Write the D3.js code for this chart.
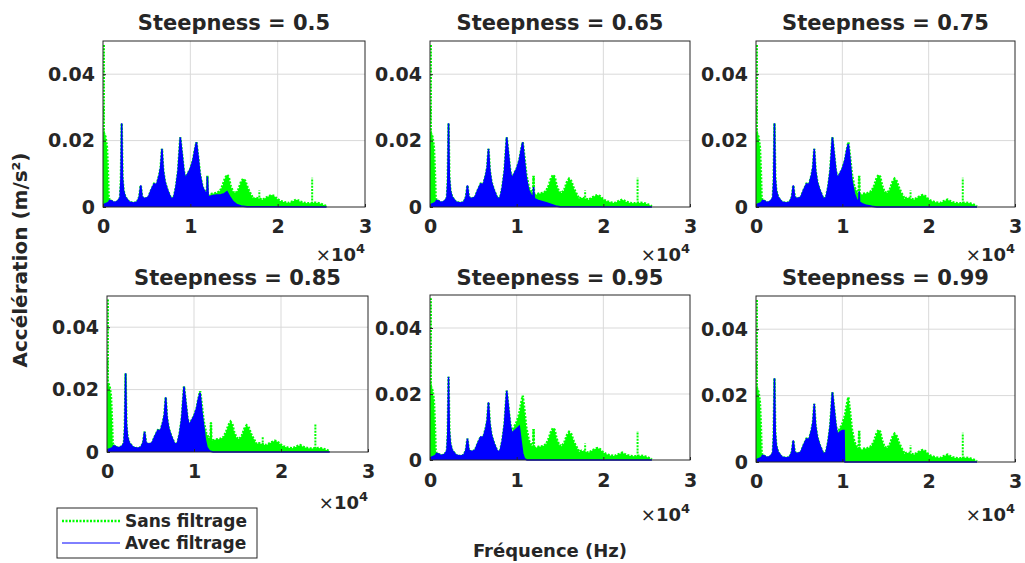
<!DOCTYPE html>
<html><head><meta charset="utf-8">
<script src="https://cdn.jsdelivr.net/npm/d3@7"></script>
<style>
body{margin:0;background:#fff}
svg{display:block}
text{font-family:"DejaVu Sans",sans-serif;font-weight:bold;fill:#262626}
</style>
</head><body><svg id="c" width="1025" height="563"></svg>
<script>
// ---------------- data ----------------
const steepness = [0.5, 0.65, 0.75, 0.85, 0.95, 0.99];
const xTicks = [0, 1, 2, 3];            // ×10^4 Hz
const yTicks = [0, 0.02, 0.04];
const yTickLabels = ["0", "0.02", "0.04"];
const seriesNames = ["Sans filtrage", "Avec filtrage"];

// upper envelope of the unfiltered spectrum (Hz, m/s²)
const freqHz = [0, 30, 150, 300, 450, 560, 650, 750, 1000, 1300, 1700, 1950, 2050, 2140, 2230, 2350, 2550, 3000, 3500, 3900,
  4150, 4320, 4480, 4800, 5200, 5500, 5850, 6150, 6450, 6600, 6750, 6900, 7100, 7400, 7800, 8100, 8350, 8600, 8850, 9050,
  9250, 9450, 9700, 10000, 10300, 10500, 10700, 10900, 11100, 11400, 11700, 11900, 11950, 12000, 12500, 13000, 13400, 13700, 13950, 14200,
  14400, 14600, 14900, 15200, 15500, 15800, 16050, 16300, 16600, 16900, 17200, 17500, 17900, 18300, 18800, 19300, 19600, 19900,
  20300, 20800, 21300, 21800, 22200, 22600, 23100, 23600, 24300, 24800, 25300, 25600];
const sansFiltrage = [0.030, 0.021, 0.022, 0.021, 0.018, 0.011, 0.003, 0.002, 0.0018, 0.0013, 0.0018, 0.0028, 0.008, 0.0252, 0.009, 0.005, 0.003, 0.0015, 0.0012, 0.0015,
  0.003, 0.0065, 0.003, 0.0025, 0.003, 0.005, 0.007, 0.0068, 0.0098, 0.012, 0.0175, 0.011, 0.0075, 0.005, 0.0025, 0.0028, 0.006, 0.011, 0.021, 0.016,
  0.011, 0.0085, 0.010, 0.0115, 0.014, 0.017, 0.0195, 0.015, 0.010, 0.006, 0.0045, 0.004, 0.0094, 0.0035, 0.004, 0.0042, 0.0048, 0.0065, 0.0085, 0.0097,
  0.009, 0.0065, 0.0045, 0.0042, 0.0052, 0.0075, 0.0085, 0.0078, 0.0055, 0.004, 0.0025, 0.0028, 0.0025, 0.0022, 0.003, 0.0036, 0.0033, 0.0025,
  0.0018, 0.0014, 0.0012, 0.0018, 0.0022, 0.0016, 0.0012, 0.0011, 0.0013, 0.0011, 0.0006, 0.0002];

// isolated dotted lines of the unfiltered spectrum
const spikeHz = [0, 11950, 17900, 23950];
const spikeAmp = [0.049, 0.0095, 0.005, 0.0088];

// filtered spectrum: low-frequency part (differs from the unfiltered one)
const avecLowHz = [0, 100, 300, 500, 650];
const avecLowAmp = [0.0005, 0.0008, 0.001, 0.0012, 0.0015];

// filtered spectrum: transition band for each steepness [Hz, m/s²]
const tail050 = [[11900, 0.004], [11950, 0.0092], [12050, 0.003], [12500, 0.0034], [13000, 0.0036], [13500, 0.0037], [13900, 0.004],
  [14200, 0.0046], [14500, 0.0032], [14900, 0.0016], [15300, 0.0008], [15800, 0.0003], [16500, 0.0001], [25600, 0]];
const tail065 = [[10700, 0.0195], [10900, 0.014], [11100, 0.009], [11400, 0.005], [11700, 0.0035], [11900, 0.003], [11950, 0.006],
  [12050, 0.0025], [12500, 0.002], [13000, 0.0016], [13500, 0.0012], [14000, 0.0008], [14500, 0.0003], [15000, 0.0001], [25600, 0]];
const tail075 = [[10700, 0.019], [10900, 0.014], [11100, 0.008], [11400, 0.004], [11700, 0.002], [11900, 0.002], [11950, 0.0047],
  [12000, 0.0015], [12300, 0.001], [12800, 0.0005], [13400, 0.0002], [14000, 0], [25600, 0]];
const tail085 = [[10500, 0.017], [10700, 0.019], [10900, 0.013], [11100, 0.0086], [11300, 0.004], [11500, 0.0015], [11800, 0.0003],
  [12200, 0], [25600, 0]];
const tail095 = [[9450, 0.008], [9700, 0.0088], [10000, 0.0095], [10300, 0.0102], [10500, 0.006], [10700, 0.002], [10900, 0.0004],
  [11200, 0], [25600, 0]];
const tail099 = [[9450, 0.0082], [9700, 0.009], [10000, 0.0095], [10200, 0.0095], [10250, 0.0005], [10300, 0], [25600, 0]];
const tails = [tail050, tail065, tail075, tail085, tail095, tail099];

// ---------------- layout ----------------
const GREEN = "#00ff00", BLUE = "#0000ff";
const boxes = [
  {l:103, r:365, t:41,  b:207, titleY:30,  tickY:233, expY:261},
  {l:430, r:690, t:41,  b:207, titleY:30,  tickY:233, expY:261},
  {l:756, r:1015,t:41,  b:207, titleY:30,  tickY:233, expY:261},
  {l:107, r:368, t:296, b:452, titleY:285, tickY:478, expY:509},
  {l:430, r:690, t:295, b:460, titleY:285, tickY:487, expY:521},
  {l:756, r:1015,t:296, b:462, titleY:285, tickY:488, expY:521}
];

const svg = d3.select("#c");
const green = freqHz.map((f, i) => [f, sansFiltrage[i]]);

steepness.forEach((s, k) => {
  const B = boxes[k];
  const x = d3.scaleLinear().domain([0, 3]).range([B.l, B.r]);
  const y = d3.scaleLinear().domain([0, 0.05]).range([B.b, B.t]);
  const fx = f => x(f / 1e4);
  const g = svg.append("g");

  g.append("clipPath").attr("id", "clip" + k).append("rect")
    .attr("x", B.l).attr("y", B.t - 1).attr("width", B.r - B.l).attr("height", B.b - B.t + 2);

  // grid
  g.append("g").selectAll("line").data(xTicks.slice(1, -1)).join("line")
    .attr("x1", d => x(d)).attr("x2", d => x(d)).attr("y1", B.t).attr("y2", B.b)
    .attr("stroke", "#d9d9d9").attr("stroke-width", 1);
  g.append("g").selectAll("line").data(yTicks.slice(1)).join("line")
    .attr("y1", d => y(d)).attr("y2", d => y(d)).attr("x1", B.l).attr("x2", B.r)
    .attr("stroke", "#d9d9d9").attr("stroke-width", 1);

  const plot = g.append("g").attr("clip-path", `url(#clip${k})`);
  const area = d3.area().x(d => fx(d[0])).y0(y(0)).y1(d => y(d[1]));
  const line = d3.line().x(d => fx(d[0])).y(d => y(d[1]));

  // unfiltered spectrum
  plot.append("path").datum(green).attr("d", area).attr("fill", GREEN);
  plot.append("path").datum(green).attr("d", line).attr("fill", "none")
    .attr("stroke", GREEN).attr("stroke-width", 2.5).attr("stroke-dasharray", "2,1.5");
  plot.append("g").selectAll("line").data(spikeHz).join("line")
    .attr("x1", d => fx(d) + (d === 0 ? 1 : 0)).attr("x2", d => fx(d) + (d === 0 ? 1 : 0))
    .attr("y1", y(0)).attr("y2", (d, i) => y(spikeAmp[i]))
    .attr("stroke", GREEN).attr("stroke-width", 2).attr("stroke-dasharray", "2,1.2");

  // filtered spectrum
  const tail = tails[k];
  const blue = avecLowHz.map((f, i) => [f, avecLowAmp[i]])
    .concat(green.filter(d => d[0] >= 750 && d[0] < tail[0][0]))
    .concat(tail);
  plot.append("path").datum(blue).attr("d", area).attr("fill", BLUE);
  plot.append("path").datum(blue).attr("d", line).attr("fill", "none")
    .attr("stroke", BLUE).attr("stroke-width", 1.5);

  // box + axes
  const yAxis = d3.axisLeft(y).tickValues(yTicks).tickFormat((d, i) => yTickLabels[i])
    .tickSizeInner(-3).tickSizeOuter(0).tickPadding(8);
  const xAxis = d3.axisBottom(x).tickValues(xTicks).tickFormat(d3.format("d"))
    .tickSizeInner(-3).tickSizeOuter(0).tickPadding(0);
  const ya = g.append("g").attr("transform", `translate(${B.l},0)`).call(yAxis);
  ya.selectAll("text").style("font-size", "19px").attr("fill", "#262626");
  const xa = g.append("g").attr("transform", `translate(0,${B.b})`).call(xAxis);
  xa.selectAll("text").style("font-size", "19px").attr("fill", "#262626")
    .attr("dy", null).attr("y", B.tickY - B.b);
  [ya, xa].forEach(a => { a.select(".domain").remove(); a.selectAll("line").attr("stroke", "#262626"); });

  g.append("rect").attr("x", B.l).attr("y", B.t).attr("width", B.r - B.l).attr("height", B.b - B.t)
    .attr("fill", "none").attr("stroke", "#262626").attr("stroke-width", 1);

  // title
  g.append("text").attr("x", (B.l + B.r) / 2).attr("y", B.titleY).attr("text-anchor", "middle")
    .style("font-size", "21px").attr("fill", "#1a1a1a").text(`Steepness = ${s}`);

  // exponent label
  const ex = g.append("text").attr("x", B.r).attr("y", B.expY).attr("text-anchor", "end").style("font-size", "18px");
  ex.append("tspan").style("font-weight", "normal").text("×");
  ex.append("tspan").text("10");
  ex.append("tspan").attr("dy", -8).style("font-size", "13px").text("4");
});

// axis titles
svg.append("text").attr("transform", "translate(27,260) rotate(-90)").attr("text-anchor", "middle")
  .style("font-size", "20px").text("Accélération (m/s²)");
svg.append("text").attr("x", 550).attr("y", 557).attr("text-anchor", "middle")
  .style("font-size", "18px").text("Fréquence (Hz)");

// legend
const lg = svg.append("g");
lg.append("rect").attr("x", 57).attr("y", 508).attr("width", 200).attr("height", 50)
  .attr("fill", "#fff").attr("stroke", "#262626").attr("stroke-width", 1);
const legColors = [GREEN, BLUE];
seriesNames.forEach((name, i) => {
  const yy = 521 + i * 22;
  lg.append("line").attr("x1", 62).attr("x2", 120).attr("y1", yy).attr("y2", yy)
    .attr("stroke", legColors[i]).attr("stroke-width", i === 0 ? 2.5 : 1)
    .attr("stroke-dasharray", i === 0 ? "2,1.5" : null);
  lg.append("text").attr("x", 125).attr("y", yy + 6).style("font-size", "17px").attr("fill", "#000").text(name);
});
</script>
</body></html>
